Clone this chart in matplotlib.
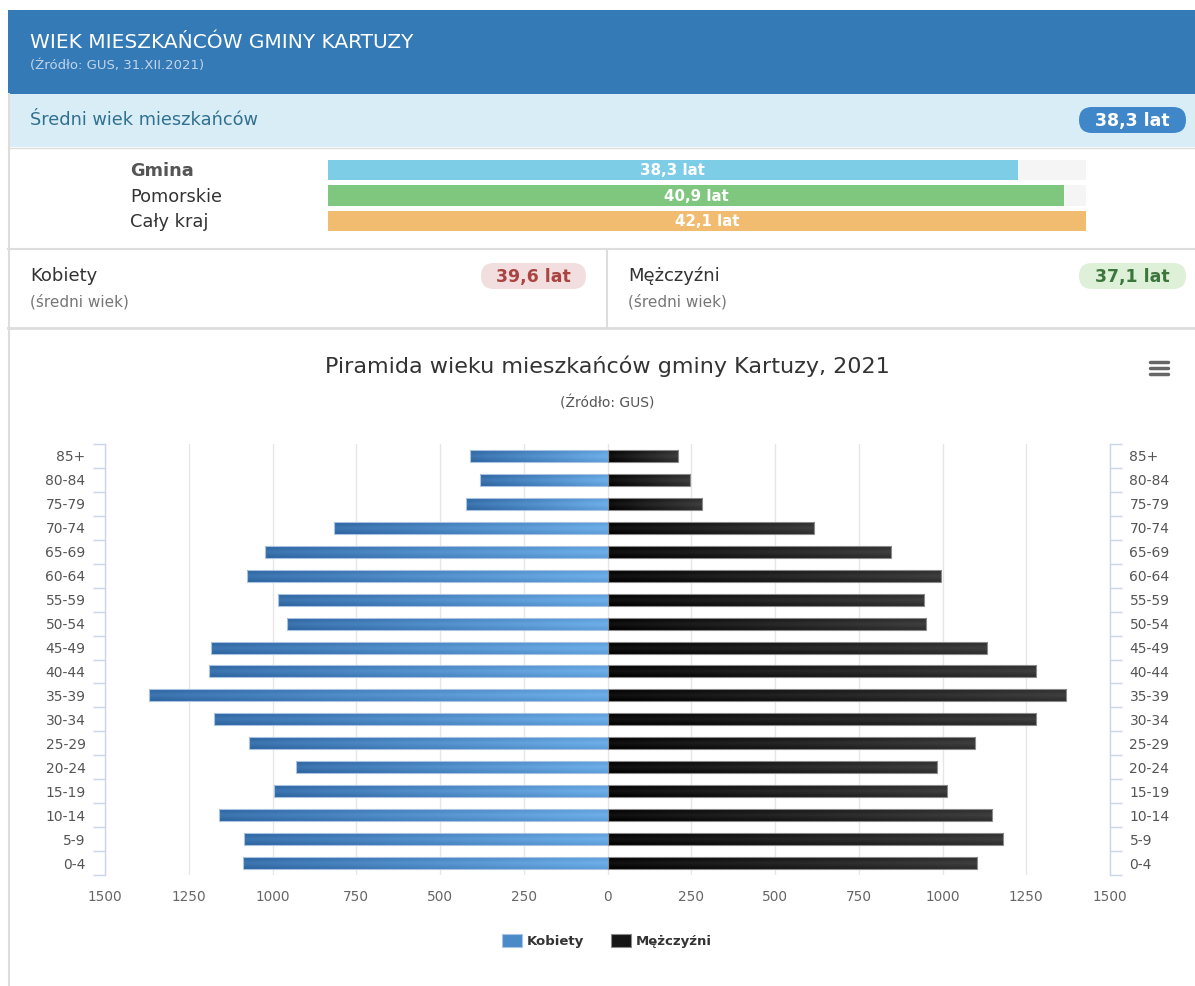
import numpy as np
import matplotlib
matplotlib.use('Agg')
import matplotlib.pyplot as plt
from matplotlib.patches import Rectangle, FancyBboxPatch
from matplotlib.colors import to_rgb
from matplotlib.ticker import FuncFormatter, FixedLocator

# dane
age_groups = ['0-4', '5-9', '10-14', '15-19', '20-24', '25-29', '30-34', '35-39', '40-44',
              '45-49', '50-54', '55-59', '60-64', '65-69', '70-74', '75-79', '80-84', '85+']
kobiety = [1089, 1085, 1161, 997, 931, 1069, 1176, 1368, 1189,
           1183, 957, 984, 1076, 1023, 817, 423, 382, 411]
mezczyzni = [1102, 1182, 1148, 1013, 983, 1097, 1278, 1370, 1278,
             1132, 951, 945, 996, 847, 617, 283, 245, 209]

mean_labels = ['Gmina', 'Pomorskie', 'Cały kraj']
mean_ages = [38.3, 40.9, 42.1]
mean_kobiety = 39.6
mean_mezczyzni = 37.1

W, H = 1195, 986
fig = plt.figure(figsize=(W / 100, H / 100), dpi=100)
fig.patch.set_facecolor('white')

# tlo w pikselach (y w dol)
bg = fig.add_axes([0, 0, 1, 1])
bg.set_xlim(0, W)
bg.set_ylim(H, 0)
bg.axis('off')


def px_axes(x0, y0, x1, y1):
    return fig.add_axes([x0 / W, 1 - y1 / H, (x1 - x0) / W, (y1 - y0) / H])


def fmt(v):
    return f'{v:.1f}'.replace('.', ',') + ' lat'


def badge(x0, y0, x1, y1, fc, tc, txt):
    bg.add_patch(FancyBboxPatch((x0, y0), x1 - x0, y1 - y0,
                                boxstyle='round,pad=0,rounding_size=13', fc=fc, ec='none'))
    bg.text((x0 + x1) / 2, (y0 + y1) / 2 + 1, txt, color=tc, fontsize=12.5,
            fontweight='bold', ha='center', va='center')


# naglowek
bg.add_patch(Rectangle((8, 10), W - 8, 84, fc='#337ab7', ec='none'))
bg.text(30, 43, 'WIEK MIESZKAŃCÓW GMINY KARTUZY', color='white', fontsize=14.5,
        ha='left', va='center')
bg.text(30, 66, '(Źródło: GUS, 31.XII.2021)', color='#c3d5ea', fontsize=9.5,
        ha='left', va='center')

# sredni wiek
bg.add_patch(Rectangle((8, 94), W - 8, 53, fc='#d9edf7', ec='none'))
bg.plot([8, W], [147.5, 147.5], color='#dddddd', lw=1)
bg.text(30, 120, 'Średni wiek mieszkańców', color='#31708f', fontsize=12.8,
        ha='left', va='center')
badge(1079, 107, 1186, 133, '#3f87c9', 'white', fmt(mean_ages[0]))

for i, lab in enumerate(mean_labels):
    bg.text(130, 171 + i * 25.5, lab, fontsize=12.8, ha='left', va='center',
            color='#555555' if i == 0 else '#333333',
            fontweight='bold' if i == 0 else 'normal')

pax = px_axes(328, 157, 1086, 234)
pos = np.arange(len(mean_ages))
pax.barh(pos, [max(mean_ages)] * len(pos), height=0.78, color='#f5f5f5')
pax.barh(pos, mean_ages, height=0.78, color=['#7ecde6', '#7fc77f', '#f2bc70'])
for p, v in zip(pos, mean_ages):
    pax.text(v / 2, p + 0.03, fmt(v), color='white', fontsize=10.8, fontweight='bold',
             ha='center', va='center')
pax.set_xlim(0, max(mean_ages))
pax.set_ylim(2.5, -0.5)
pax.axis('off')

bg.plot([8, W], [249, 249], color='#dddddd', lw=1.5)

# kobiety / mezczyzni
bg.text(30, 276, 'Kobiety', fontsize=13, color='#333333', ha='left', va='center')
bg.text(30, 302, '(średni wiek)', fontsize=11, color='#777777', ha='left', va='center')
badge(481, 263, 586, 289, '#f2dede', '#a94442', fmt(mean_kobiety))
bg.plot([607, 607], [249, 328], color='#dddddd', lw=1.5)
bg.text(628, 276, 'Mężczyźni', fontsize=13, color='#333333', ha='left', va='center')
bg.text(628, 302, '(średni wiek)', fontsize=11, color='#777777', ha='left', va='center')
badge(1079, 263, 1186, 289, '#dff0d8', '#3c763d', fmt(mean_mezczyzni))
bg.plot([8, W], [328, 328], color='#dddddd', lw=2)
bg.plot([9, 9], [94, H], color='#dddddd', lw=1.5)

# tytul wykresu
bg.text(607, 366, 'Piramida wieku mieszkańców gminy Kartuzy, 2021',
        fontsize=16, color='#333333', ha='center', va='center')
bg.text(607, 403, '(Źródło: GUS)', fontsize=10, color='#555555',
        ha='center', va='center')
for yy in (362, 368, 374):
    bg.plot([1150, 1168], [yy, yy], color='#666666', lw=2.5, solid_capstyle='round')

# piramida
ax = px_axes(105, 444, 1110, 875)
y = np.arange(len(age_groups))
bh = 0.5


def gradient(outer, inner, outer_left, n=64):
    t = np.linspace(0, 1, n)
    if not outer_left:
        t = t[::-1]
    row = (1 - t)[:, None] * np.array(to_rgb(outer)) + t[:, None] * np.array(to_rgb(inner))
    v = np.linspace(0, 1, 16)
    sheen = 1 - np.abs(2 * v - 1)
    img = row[None, :, :] + 0.07 * sheen[:, None, None]
    return np.clip(img, 0, 1)


bars_k = ax.barh(y, -np.array(kobiety), height=bh, color='#4a8ac8', zorder=2)
bars_m = ax.barh(y, mezczyzni, height=bh, color='#151515', zorder=2)
g_k = gradient('#2c64a0', '#5d9ed9', True)
g_m = gradient('#2e2e2e', '#000000', False)
for bars, g in ((bars_k, g_k), (bars_m, g_m)):
    for b in bars:
        xa, xb = sorted([b.get_x(), b.get_x() + b.get_width()])
        y0 = b.get_y()
        im = ax.imshow(g, extent=[xa, xb, y0, y0 + b.get_height()],
                       aspect='auto', zorder=2.5, interpolation='bilinear')
        im.set_clip_path(b)
ax.barh(y, -np.array(kobiety), height=bh, fill=False, edgecolor='#a9c4e2', lw=0.8, zorder=3)
ax.barh(y, mezczyzni, height=bh, fill=False, edgecolor='#8a8a8a', lw=0.8, zorder=3)

ax.set_xlim(-1500, 1500)
ax.set_ylim(-0.5, len(age_groups) - 0.5)
ax.set_xticks(np.arange(-1500, 1501, 250))
ax.xaxis.set_major_formatter(FuncFormatter(lambda v, p: f'{abs(int(v))}'))
ax.tick_params(axis='x', length=0, pad=11, labelsize=9.8, labelcolor='#666666')
ax.grid(axis='x', color='#e6e6e6', lw=1, zorder=0)

ax.set_yticks(y)
ax.set_yticklabels(age_groups)
ax.yaxis.set_minor_locator(FixedLocator(np.arange(-0.5, len(age_groups), 1)))
ax.tick_params(axis='y', which='major', length=0, left=True, right=True,
               labelleft=True, labelright=True, labelsize=10, labelcolor='#555555', pad=14)
ax.tick_params(axis='y', which='minor', length=8.5, width=1, color='#ccd6eb',
               direction='out', left=True, right=True)
for s in ('top', 'bottom'):
    ax.spines[s].set_visible(False)
for s in ('left', 'right'):
    ax.spines[s].set_color('#ccd6eb')
    ax.spines[s].set_linewidth(1)
ax.set_facecolor('none')

handles = [Rectangle((0, 0), 1, 1, fc='#4a8ac8', ec='#a9c4e2', lw=0.8),
           Rectangle((0, 0), 1, 1, fc='#151515', ec='#8a8a8a', lw=0.8)]
fig.legend(handles, ['Kobiety', 'Mężczyźni'], loc='center',
           bbox_to_anchor=(607 / W, 1 - 941 / H), ncol=2, frameon=False,
           handlelength=1.5, handleheight=1.2, handletextpad=0.4, columnspacing=2.0,
           prop={'size': 9.5, 'weight': 'bold'}, labelcolor='#333333')

fig.savefig('out.png', dpi=100)
